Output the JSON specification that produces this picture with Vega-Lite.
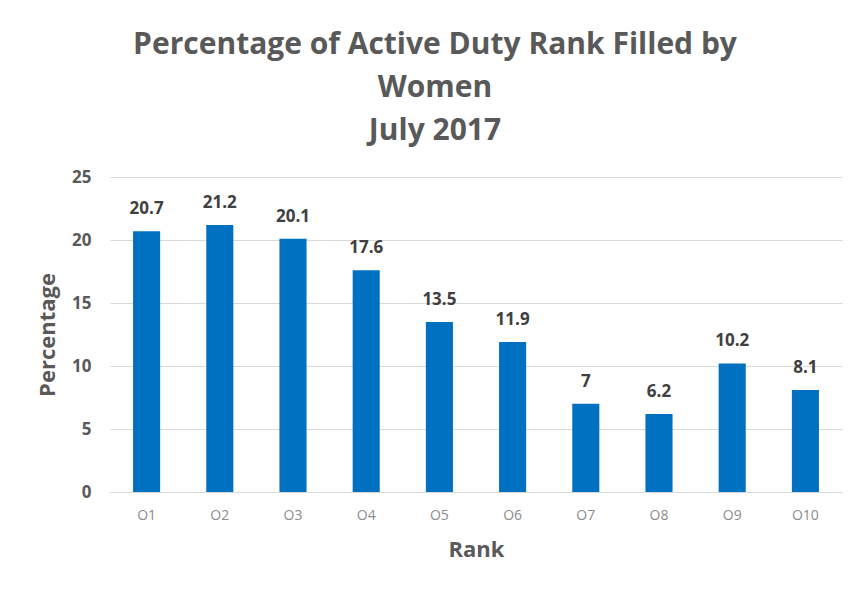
{
  "$schema": "https://vega.github.io/schema/vega-lite/v6.json",
  "autosize": "none",
  "width": 732,
  "height": 315,
  "padding": {"left": 110, "top": 177, "right": 18, "bottom": 98},
  "background": "white",
  "title": {
    "text": ["Percentage of Active Duty Rank Filled by", "Women", "July 2017"],
    "anchor": "middle",
    "dx": -41,
    "offset": 22,
    "font": "Open Sans",
    "fontSize": 30,
    "fontWeight": "bold",
    "color": "#595959",
    "lineHeight": 43
  },
  "data": {
    "values": [
      {"rank": "O1", "pct": 20.7},
      {"rank": "O2", "pct": 21.2},
      {"rank": "O3", "pct": 20.1},
      {"rank": "O4", "pct": 17.6},
      {"rank": "O5", "pct": 13.5},
      {"rank": "O6", "pct": 11.9},
      {"rank": "O7", "pct": 7},
      {"rank": "O8", "pct": 6.2},
      {"rank": "O9", "pct": 10.2},
      {"rank": "O10", "pct": 8.1}
    ]
  },
  "encoding": {
    "x": {
      "field": "rank", "type": "nominal", "sort": null,
      "scale": {"paddingInner": 0.63, "paddingOuter": 0.315},
      "axis": {
        "title": "Rank", "labelAngle": 0, "labelFont": "Open Sans", "labelFontSize": 14,
        "labelColor": "#8c8c8c", "labelPadding": 16, "ticks": false,
        "domain": true, "domainColor": "#d9d9d9",
        "titleFont": "Open Sans", "titleFontSize": 22, "titleFontWeight": "bold",
        "titleColor": "#595959", "titlePadding": 17
      }
    },
    "y": {
      "field": "pct", "type": "quantitative",
      "scale": {"domain": [0, 25], "nice": false},
      "axis": {
        "title": "Percentage", "values": [0, 5, 10, 15, 20, 25],
        "labelFont": "Open Sans", "labelFontSize": 17, "labelFontWeight": "bold",
        "labelColor": "#595959", "labelPadding": 19, "ticks": false, "domain": false,
        "gridColor": "#d9d9d9", "gridWidth": 1,
        "titleFont": "Open Sans", "titleFontSize": 22, "titleFontWeight": "bold",
        "titleColor": "#595959", "titlePadding": 12
      }
    }
  },
  "layer": [
    {"mark": {"type": "bar", "color": "#0070C0"}},
    {
      "mark": {"type": "text", "dy": -22, "font": "Open Sans", "fontSize": 17, "fontWeight": "bold", "color": "#404040"},
      "encoding": {"text": {"field": "pct", "type": "quantitative"}}
    }
  ],
  "config": {"view": {"stroke": null}}
}
